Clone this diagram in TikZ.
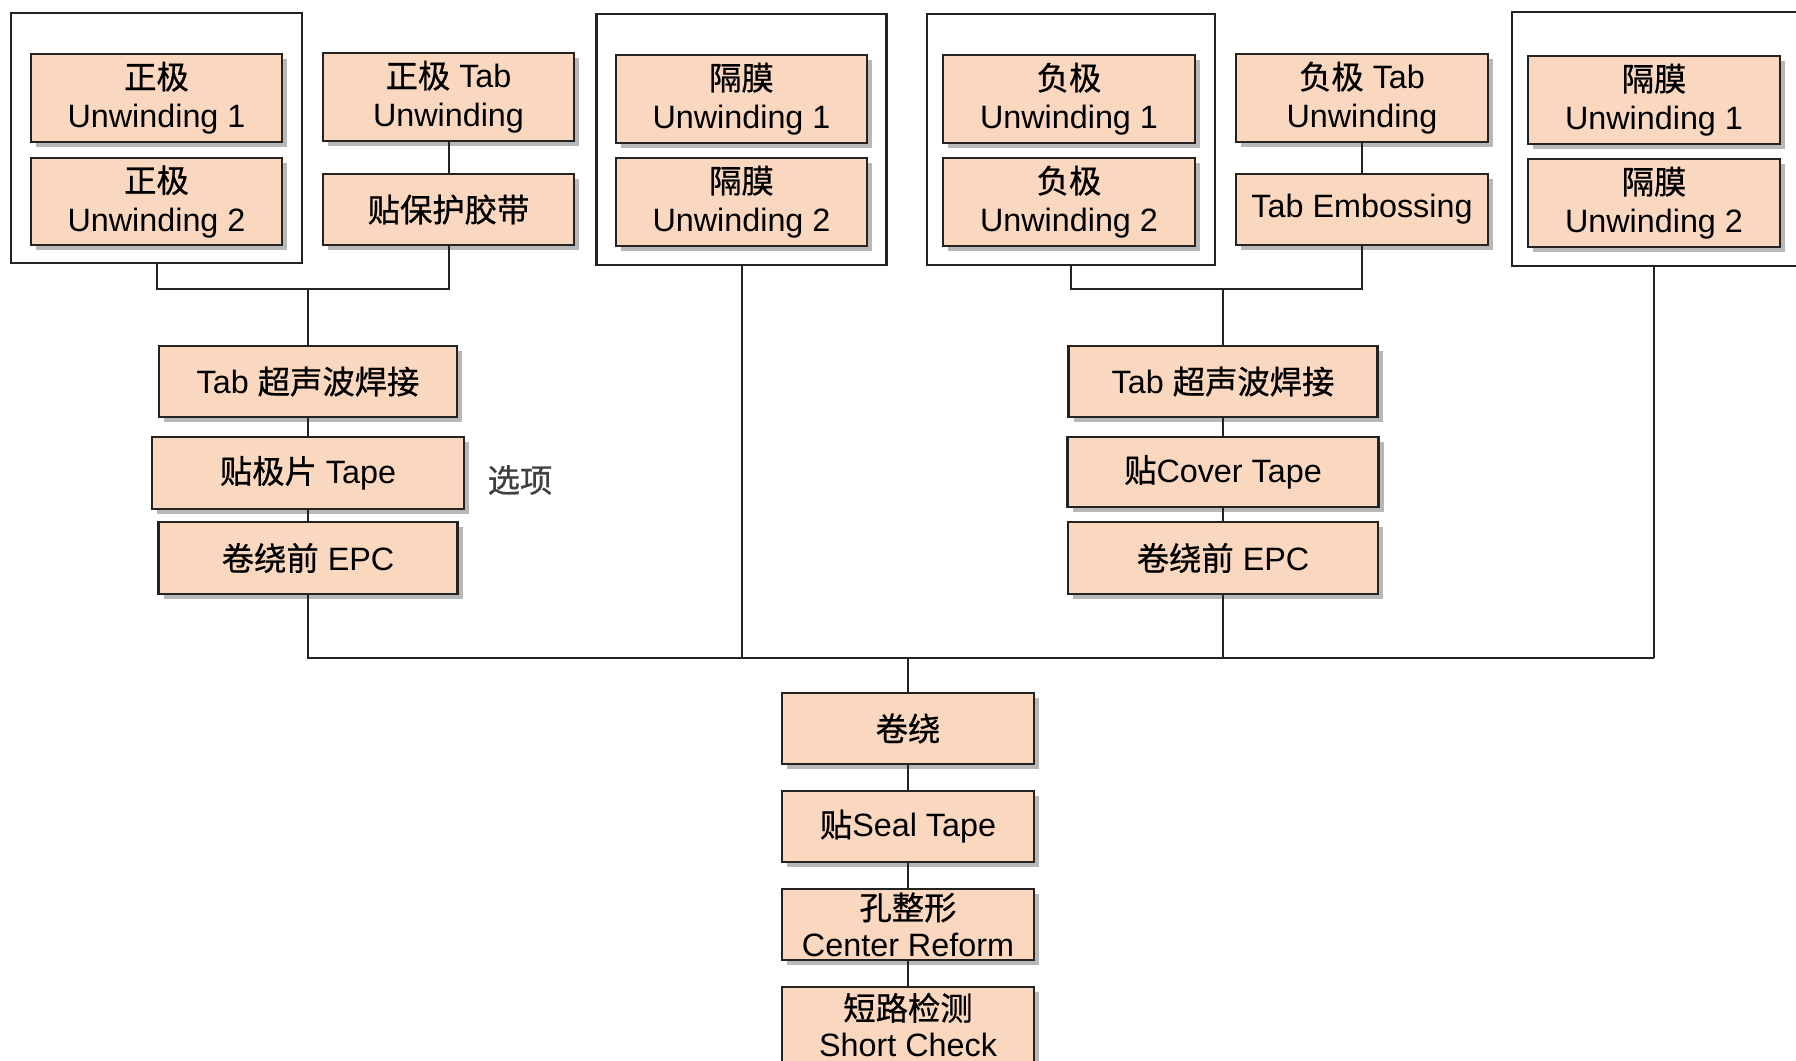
\documentclass[tikz,border=0pt]{standalone}
\usepackage{fontspec}
\setmainfont{Liberation Sans}
\newfontfamily\cjk{Noto Sans CJK SC}[FakeBold=0.7]
\usetikzlibrary{shadows}
\definecolor{boxfill}{RGB}{250,216,192}
\definecolor{edge}{RGB}{35,35,35}
\begin{document}
\begin{tikzpicture}[x=0.1mm,y=-0.1mm,
  stepbox/.style={draw=edge, line width=0.28mm, fill=boxfill, inner sep=0pt, align=center,
    font=\fontsize{9.2}{11}\selectfont,
    drop shadow={shadow xshift=0.5mm, shadow yshift=-0.5mm, fill=black, opacity=0.28}},
  unw/.style={stepbox, minimum width=25.1mm, minimum height=8.8mm},
  low/.style={stepbox, minimum width=25.1mm, minimum height=7.1mm},
  groupbox/.style={draw=edge, line width=0.22mm, fill=white, inner sep=0pt},
  link/.style={draw=edge, line width=0.2mm}]
\useasboundingbox (0,0) rectangle (1796,1060);
\clip (0,0) rectangle (1796,1060);
\fill[white] (0,0) rectangle (1796,1060);

% group frames
\node[groupbox, minimum width=29.1mm, minimum height=25.0mm] (G1) at (156.5,138) {};
\node[groupbox, minimum width=29.0mm, minimum height=25.1mm] (G2) at (741.5,139.5) {};
\node[groupbox, minimum width=28.8mm, minimum height=25.1mm] (G3) at (1071,139.5) {};
\node[groupbox, minimum width=29.8mm, minimum height=25.4mm] (G4) at (1661,139) {};

% top row
\node[unw] (A1) at (156.5,98) {{\cjk 正极}\\Unwinding 1};
\node[unw, minimum height=8.7mm] (A2) at (156.5,201.5) {{\cjk 正极}\\Unwinding 2};
\node[unw] (T1) at (448.5,97) {{\cjk 正极} Tab\\Unwinding};
\node[low] (P1) at (448.5,209.5) {{\cjk 贴保护胶带}};
\node[unw] (S1) at (741.5,99) {{\cjk 隔膜}\\Unwinding 1};
\node[unw] (S2) at (741.5,202) {{\cjk 隔膜}\\Unwinding 2};
\node[unw, minimum width=25.2mm] (N1) at (1069,99) {{\cjk 负极}\\Unwinding 1};
\node[unw, minimum width=25.2mm] (N2) at (1069,202) {{\cjk 负极}\\Unwinding 2};
\node[unw, minimum width=25.2mm] (T2) at (1362,98) {{\cjk 负极} Tab\\Unwinding};
\node[low, minimum width=25.2mm] (E2) at (1362,209.5) {Tab Embossing};
\node[unw, minimum width=25.2mm] (R1) at (1654,100) {{\cjk 隔膜}\\Unwinding 1};
\node[unw, minimum width=25.2mm] (R2) at (1654,203) {{\cjk 隔膜}\\Unwinding 2};

% left chain
\node[stepbox, minimum width=29.8mm, minimum height=7.1mm] (W1) at (308,381.5) {Tab {\cjk 超声波焊接}};
\node[stepbox, minimum width=31.2mm, minimum height=7.2mm] (K1) at (308,473) {{\cjk 贴极片} Tape};
\node[stepbox, minimum width=29.9mm, minimum height=7.2mm] (E1) at (308,558) {{\cjk 卷绕前} EPC};
\node[font=\fontsize{9.2}{11}\selectfont\cjk, text=black!75] (opt) at (520,480) {选项};

% right chain
\node[stepbox, minimum width=30.9mm, minimum height=7.1mm] (W2) at (1223,381.5) {Tab {\cjk 超声波焊接}};
\node[stepbox, minimum width=31.1mm, minimum height=7.0mm] (C2) at (1223,472) {{\cjk 贴}Cover Tape};
\node[stepbox, minimum width=31.0mm, minimum height=7.2mm] (E3) at (1223,558) {{\cjk 卷绕前} EPC};

% centre chain
\node[stepbox, minimum width=25.2mm, minimum height=7.1mm] (Q1) at (908,728.5) {{\cjk 卷绕}};
\node[stepbox, minimum width=25.2mm, minimum height=7.1mm] (Q2) at (908,826.5) {{\cjk 贴}Seal Tape};
\node[stepbox, minimum width=25.2mm, minimum height=7.1mm, font=\fontsize{9.2}{10.4}\selectfont] (Q3) at (908,924.5) {{\cjk 孔整形}\\Center Reform};
\node[stepbox, minimum width=25.2mm, minimum height=7.6mm, font=\fontsize{9.2}{10.4}\selectfont] (Q4) at (908,1025) {{\cjk 短路检测}\\Short Check};

% junctions
\coordinate (jL) at (308,289);
\coordinate (jR) at (1223,289);
\coordinate (busL) at (308,658);
\coordinate (busR) at (1654,658);

% connectors
\draw[link] (G1.south) |- (jL) -| (P1.south);
\draw[link] (T1.south) -- (P1.north);
\draw[link] (jL) -- (W1.north);
\draw[link] (W1.south) -- (K1.north);
\draw[link] (K1.south) -- (E1.north);
\draw[link] (E1.south) -- (busL) -- (busR);
\draw[link] (G2.south) -- (G2.south |- busL);
\draw[link] (G3.south) |- (jR) -| (E2.south);
\draw[link] (T2.south) -- (E2.north);
\draw[link] (jR) -- (W2.north);
\draw[link] (W2.south) -- (C2.north);
\draw[link] (C2.south) -- (E3.north);
\draw[link] (E3.south) -- (E3.south |- busL);
\draw[link] (R2.south |- G4.south) -- (busR);
\draw[link] (Q1.north |- busL) -- (Q1.north);
\draw[link] (Q1.south) -- (Q2.north);
\draw[link] (Q2.south) -- (Q3.north);
\draw[link] (Q3.south) -- (Q4.north);
\end{tikzpicture}
\end{document}
